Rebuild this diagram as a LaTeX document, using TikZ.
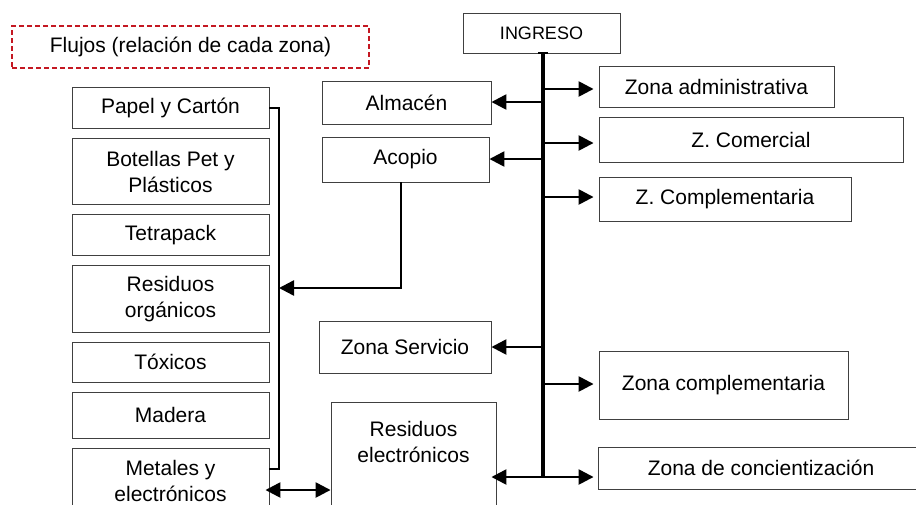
\documentclass[tikz,border=0pt]{standalone}
\usepackage{fontspec}
\setmainfont{Liberation Sans}
\usetikzlibrary{arrows.meta}
\definecolor{rojoborde}{RGB}{196,24,34}
\tikzstyle{material} = [rectangle, minimum width = 197pt, minimum height = 41pt,
	text centered, align = center, draw = black!75, line width = 0.9pt,
	inner sep = 2pt, font = \fontsize{21}{26}\selectfont]
\tikzstyle{zona} = [rectangle, minimum height = 43pt, inner sep = 2pt,
	text centered, align = center, draw = black!75, line width = 0.9pt,
	font = \fontsize{21}{26}\selectfont]
\tikzstyle{rama} = [line width = 2.5pt, -{Triangle[length = 15pt, width = 15pt]}]
\tikzstyle{doble} = [line width = 2.5pt, {Triangle[length = 15pt, width = 15pt]}-{Triangle[length = 15pt, width = 15pt]}]
\tikzstyle{colector} = [line width = 2pt]
\begin{document}
\begin{tikzpicture}[x = 1pt, y = -1pt]

\useasboundingbox (0,0) rectangle (916,504);
\clip (0,0) rectangle (916,504);

\node (flujos) [zona, draw = rojoborde, line width = 1.5pt, dash pattern = on 5pt off 3pt,
	minimum width = 357pt, minimum height = 42pt] at (190.5,47)
	{Flujos (relación de cada zona)};

\node (columna) [matrix, inner sep = 0pt, row sep = 9pt, anchor = north] at (170.5,87)
{
	\node (papel) [material] {Papel y Cartón}; \\
	\node (botellas) [material, minimum height = 66pt] {Botellas Pet y\\Plásticos}; \\
	\node (tetrapack) [material] {Tetrapack}; \\
	\node (organicos) [material, minimum height = 67pt] {Residuos\\orgánicos}; \\
	\node (toxicos) [material, minimum height = 40pt] {Tóxicos}; \\
	\node (madera) [material, minimum height = 46pt] {Madera}; \\
	\node (metales) [material, minimum height = 66pt] {Metales y\\electrónicos}; \\
};

\node (ingreso) [zona, minimum width = 157pt, minimum height = 40pt,
	font = \fontsize{18}{22}\selectfont] at (541.5,33) {INGRESO};

\node (almacen) [zona, minimum width = 169pt] at (406.5,102.5) {Almacén};
\node (acopio) [zona, minimum width = 167pt, minimum height = 45pt] at (405.5,159.5) {Acopio};
\node (servicio) [zona, minimum width = 172pt, minimum height = 52pt] at (405,347) {Zona Servicio};
\node (resel) [zona, minimum width = 165pt, minimum height = 130pt, anchor = north] at (413.5,402) {};
\node (reseltexto) [align = center, anchor = north, font = \fontsize{21}{26}\selectfont]
	at ([yshift = -16pt]resel.north) {Residuos\\electrónicos};

\node (zadmin) [zona, minimum width = 235pt, minimum height = 41pt] at (716.5,86.5) {Zona administrativa};
\node (zcomercial) [zona, minimum width = 304pt, minimum height = 45pt] at (751,139.5) {Z. Comercial};
\node (zcompl) [zona, minimum width = 252pt, minimum height = 44pt] at (725,199) {Z. Complementaria};
\node (zcomplementaria) [zona, minimum width = 249pt, minimum height = 68pt] at (723.5,385) {Zona complementaria};
\node (zconc) [zona, minimum width = 326pt, minimum height = 42pt] at (761,468) {Zona de concientización};

\coordinate (ejeinicio) at (543,53);
\coordinate (ejefin) at (543,477);
\draw [line width = 4pt] (ejeinicio) -- (ejefin);
\draw [line width = 1.5pt] ([xshift = -5pt]ejeinicio) -- ([xshift = 5pt]ejeinicio);

\coordinate (e1) at (543,89);
\coordinate (e2) at (543,102);
\coordinate (e3) at (543,143);
\coordinate (e4) at (543,159);
\coordinate (e5) at (543,197);
\coordinate (e6) at (543,347);
\coordinate (e7) at (543,384);

\draw [rama, shorten > = 5pt] (e1) -- (e1 -| zadmin.west);
\draw [rama] (e2) -- (e2 -| almacen.east);
\draw [rama, shorten > = 5pt] (e3) -- (e3 -| zcomercial.west);
\draw [rama] (e4) -- (e4 -| acopio.east);
\draw [rama, shorten > = 5pt] (e5) -- (e5 -| zcompl.west);
\draw [rama] (e6) -- (e6 -| servicio.east);
\draw [rama, shorten > = 5pt] (e7) -- (e7 -| zcomplementaria.west);
\draw [rama, shorten > = 4pt] (ejefin) -- (ejefin -| zconc.west);
\draw [rama, shorten > = -5pt] (ejefin) -- (ejefin -| resel.east);

\coordinate (bus) at (279,288);
\draw [colector] (papel.east) -| ([yshift = -21pt]metales.north east -| bus)
	-- ([yshift = -21pt]metales.north east);
\draw [rama] ([xshift = -4.5pt]acopio.south) |- (bus);

\coordinate (enlace) at (300,490);
\draw [doble, shorten < = -4pt] (enlace -| metales.east) -- (enlace -| resel.west);

\end{tikzpicture}
\end{document}
